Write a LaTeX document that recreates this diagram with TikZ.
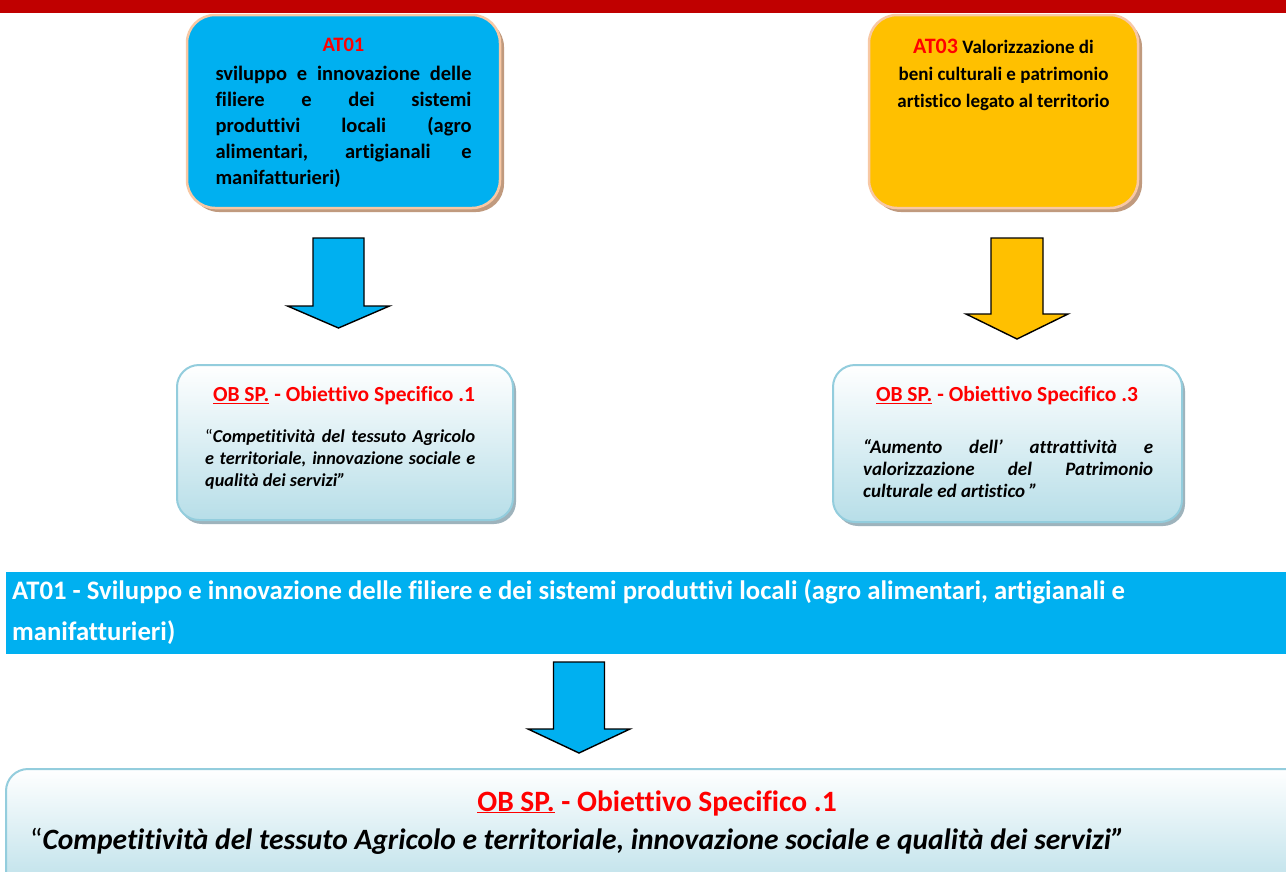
\documentclass[tikz,border=0pt]{standalone}
\usepackage{fontspec}
\setmainfont{Carlito}[Ligatures=NoCommon]
\usetikzlibrary{shadows}
\definecolor{barred}{HTML}{C00000}
\definecolor{skyblue}{HTML}{00B0F0}
\definecolor{amber}{HTML}{FFC000}
\definecolor{peach}{HTML}{F8C8A4}
\definecolor{tanshadow}{HTML}{C09A7E}
\definecolor{obborder}{HTML}{93CDDD}
\definecolor{obbottom}{HTML}{B7DEE8}
\definecolor{obshadow}{HTML}{94ABB5}
\definecolor{redtxt}{HTML}{FF0000}
\newcommand\DArrow[7]{%
  \draw[blockarrow, fill=#1]
    ([shift={(-#3,0)}]#2) -- ([shift={(#3,0)}]#2) -- ([shift={(#3,#4)}]#2)
    -- ([shift={(#5,#4)}]#2) -- ([shift={(0,#6)}]#2) -- ([shift={(-#5,#4)}]#2)
    -- ([shift={(-#3,#4)}]#2) -- cycle;}
\begin{document}
\begin{tikzpicture}[x=1pt,y=-1pt,
  atbox/.style={rounded corners=28pt, draw=peach, line width=2.5pt, inner sep=0pt,
    drop shadow={shadow xshift=4pt, shadow yshift=-4pt, fill=tanshadow, opacity=1}},
  obbox/.style={rounded corners=22pt, draw=obborder, line width=2pt, inner sep=0pt,
    top color=white, bottom color=obbottom,
    drop shadow={shadow xshift=3pt, shadow yshift=-4pt, fill=obshadow, opacity=.9}},
  blockarrow/.style={draw=black, line width=1.4pt, line join=miter},
  txt/.style={inner sep=0pt, align=left},
]
\useasboundingbox (0,0) rectangle (1286,871);
\fill[white] (0,0) rectangle (1286,871);
% top bar
\fill[barred] (0,0) rectangle (1286,13);

% AT01 box
\node[atbox, fill=skyblue, minimum width=313pt, minimum height=193pt] (at01) at (343.5,111.5) {};
\node[txt, align=center, font=\fontsize{20.5}{26}\selectfont\bfseries] (at01txt) at (343.5,112.5) {%
  {\color{redtxt}AT01}\\[3pt]
  \makebox[256pt][s]{sviluppo e innovazione delle}\\
  \makebox[256pt][s]{filiere e dei sistemi}\\
  \makebox[256pt][s]{produttivi locali (agro}\\
  \makebox[256pt][s]{alimentari, artigianali e}\\
  \makebox[256pt][l]{manifatturieri)}};

% AT03 box
\node[atbox, fill=amber, minimum width=269pt, minimum height=193pt] (at03) at (1003.5,111.5) {};
\node[txt, align=center, font=\fontsize{19}{27}\selectfont\bfseries] (at03txt) at (1003.5,75) {%
  {\color{redtxt}\fontsize{22}{27}\selectfont AT03} Valorizzazione di\\
  beni culturali e patrimonio\\
  artistico legato al territorio};

% arrows
\coordinate (a1) at (338.5,238);
\DArrow{skyblue}{a1}{25.5}{68}{51}{90}{}
\coordinate (a3) at (1017,238);
\DArrow{amber}{a3}{26}{76}{51}{101}{}

% OB1 box
\node[obbox, minimum width=336pt, minimum height=155pt] (ob1) at (345,442.5) {};
\node[txt, align=center, font=\fontsize{21.5}{24}\selectfont\bfseries] (ob1title) at (344,396) {\color{redtxt}\underline{OB SP.} - Obiettivo Specifico .1};
\node[txt, anchor=north west, font=\fontsize{18.2}{22}\selectfont] (ob1txt) at (205,429) {%
  \makebox[270pt][s]{“\bfseries\itshape Competitività del tessuto Agricolo}\\
  \makebox[270pt][s]{\bfseries\itshape e territoriale, innovazione sociale e}\\
  \makebox[270pt][l]{\bfseries\itshape qualità dei servizi”}};

% OB3 box
\node[obbox, minimum width=349pt, minimum height=157pt] (ob3) at (1007.5,443.5) {};
\node[txt, align=center, font=\fontsize{21.5}{24}\selectfont\bfseries] (ob3title) at (1007,396) {\color{redtxt}\underline{OB SP.} - Obiettivo Specifico .3};
\node[txt, anchor=north west, font=\fontsize{19}{22}\selectfont\bfseries\itshape] (ob3txt) at (863,439) {%
  \makebox[290pt][s]{“Aumento dell’ attrattività e}\\
  \makebox[290pt][s]{valorizzazione del Patrimonio}\\
  \makebox[290pt][l]{culturale ed artistico ”}};

% band
\node[fill=skyblue, minimum width=1280pt, minimum height=82pt, inner sep=0pt] (band) at (646,613) {};
\node[txt, anchor=north west, text=white, font=\fontsize{26.7}{41}\selectfont\bfseries] (bandtxt) at (12,579) {%
  AT01 - Sviluppo e innovazione delle filiere e dei sistemi produttivi locali (agro alimentari, artigianali e\\
  manifatturieri)};

% bottom arrow
\coordinate (a5) at (579,662);
\DArrow{skyblue}{a5}{25.5}{67}{51}{91}{}

% bottom box
\node[obbox, minimum width=1320pt, minimum height=130pt] (ob5) at (666,834) {};
\node[txt, align=center, font=\fontsize{29.5}{32}\selectfont\bfseries] (ob5title) at (657,803) {\color{redtxt}\underline{OB SP.} - Obiettivo Specifico .1};
\node[txt, anchor=west, font=\fontsize{29.5}{32}\selectfont] (ob5txt) at (30,841) {%
  “{\bfseries\itshape Competitività del tessuto Agricolo e territoriale, innovazione sociale e qualità dei servizi”}};
\end{tikzpicture}
\end{document}
